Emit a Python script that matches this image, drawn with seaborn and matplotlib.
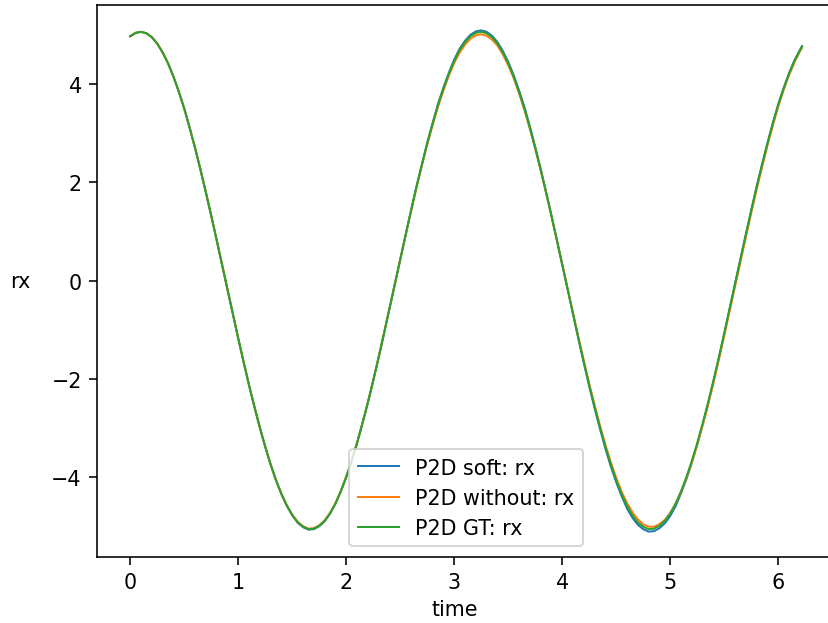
import matplotlib
matplotlib.use("Agg")
import matplotlib.pyplot as plt
import seaborn as sns
import pandas as pd

# ---- data (time step 0.05) ----
time = [0.00, 0.05, 0.10, 0.15, 0.20, 0.25, 0.30, 0.35, 0.40, 0.45,
        0.50, 0.55, 0.60, 0.65, 0.70, 0.75, 0.80, 0.85, 0.90, 0.95,
        1.00, 1.05, 1.10, 1.15, 1.20, 1.25, 1.30, 1.35, 1.40, 1.45,
        1.50, 1.55, 1.60, 1.65, 1.70, 1.75, 1.80, 1.85, 1.90, 1.95,
        2.00, 2.05, 2.10, 2.15, 2.20, 2.25, 2.30, 2.35, 2.40, 2.45,
        2.50, 2.55, 2.60, 2.65, 2.70, 2.75, 2.80, 2.85, 2.90, 2.95,
        3.00, 3.05, 3.10, 3.15, 3.20, 3.25, 3.30, 3.35, 3.40, 3.45,
        3.50, 3.55, 3.60, 3.65, 3.70, 3.75, 3.80, 3.85, 3.90, 3.95,
        4.00, 4.05, 4.10, 4.15, 4.20, 4.25, 4.30, 4.35, 4.40, 4.45,
        4.50, 4.55, 4.60, 4.65, 4.70, 4.75, 4.80, 4.85, 4.90, 4.95,
        5.00, 5.05, 5.10, 5.15, 5.20, 5.25, 5.30, 5.35, 5.40, 5.45,
        5.50, 5.55, 5.60, 5.65, 5.70, 5.75, 5.80, 5.85, 5.90, 5.95,
        6.00, 6.05, 6.10, 6.15, 6.20, 6.22]

rx_gt = [4.96, 5.03, 5.05, 5.02, 4.94, 4.81, 4.63, 4.41, 4.14, 3.83,
         3.49, 3.10, 2.69, 2.25, 1.79, 1.31, 0.82, 0.32, -0.18, -0.68,
         -1.18, -1.66, -2.13, -2.57, -2.99, -3.38, -3.74, -4.06, -4.34, -4.57,
         -4.76, -4.91, -5.00, -5.05, -5.04, -4.98, -4.88, -4.73, -4.53, -4.28,
         -3.99, -3.66, -3.30, -2.90, -2.48, -2.03, -1.56, -1.07, -0.57, -0.07,
         0.43, 0.93, 1.42, 1.90, 2.35, 2.79, 3.19, 3.57, 3.90, 4.20,
         4.46, 4.68, 4.84, 4.96, 5.03, 5.05, 5.02, 4.94, 4.81, 4.63,
         4.41, 4.14, 3.83, 3.49, 3.10, 2.69, 2.25, 1.79, 1.31, 0.82,
         0.32, -0.18, -0.68, -1.18, -1.66, -2.13, -2.57, -2.99, -3.38, -3.74,
         -4.06, -4.34, -4.58, -4.77, -4.91, -5.00, -5.05, -5.04, -4.98, -4.88,
         -4.73, -4.53, -4.28, -3.99, -3.66, -3.30, -2.90, -2.48, -2.03, -1.56,
         -1.07, -0.57, -0.07, 0.43, 0.93, 1.42, 1.90, 2.35, 2.78, 3.19,
         3.57, 3.90, 4.20, 4.46, 4.67, 4.75]

rx_soft = [4.96, 5.03, 5.05, 5.02, 4.94, 4.81, 4.63, 4.41, 4.14, 3.83,
           3.49, 3.10, 2.69, 2.25, 1.79, 1.31, 0.82, 0.32, -0.18, -0.68,
           -1.18, -1.66, -2.13, -2.57, -2.99, -3.38, -3.74, -4.06, -4.34, -4.58,
           -4.77, -4.92, -5.01, -5.06, -5.05, -4.99, -4.89, -4.73, -4.53, -4.28,
           -3.99, -3.66, -3.30, -2.90, -2.48, -2.03, -1.56, -1.07, -0.57, -0.07,
           0.43, 0.93, 1.43, 1.91, 2.36, 2.80, 3.20, 3.59, 3.92, 4.22,
           4.49, 4.71, 4.87, 4.99, 5.06, 5.08, 5.05, 4.97, 4.84, 4.66,
           4.44, 4.17, 3.86, 3.52, 3.13, 2.71, 2.27, 1.80, 1.32, 0.82,
           0.32, -0.18, -0.69, -1.19, -1.68, -2.15, -2.60, -3.02, -3.42, -3.78,
           -4.10, -4.38, -4.63, -4.82, -4.96, -5.05, -5.10, -5.09, -5.03, -4.93,
           -4.78, -4.58, -4.32, -4.03, -3.70, -3.33, -2.93, -2.50, -2.05, -1.57,
           -1.08, -0.57, -0.06, 0.44, 0.94, 1.43, 1.91, 2.36, 2.79, 3.20,
           3.58, 3.91, 4.21, 4.47, 4.68, 4.76]

rx_without = [4.96, 5.03, 5.05, 5.02, 4.94, 4.81, 4.63, 4.41, 4.14, 3.83,
              3.49, 3.10, 2.69, 2.25, 1.79, 1.31, 0.82, 0.32, -0.18, -0.68,
              -1.18, -1.66, -2.13, -2.57, -2.99, -3.38, -3.74, -4.06, -4.34, -4.57,
              -4.76, -4.90, -4.99, -5.04, -5.03, -4.97, -4.87, -4.72, -4.52, -4.27,
              -3.98, -3.65, -3.29, -2.89, -2.47, -2.02, -1.55, -1.06, -0.57, -0.07,
              0.43, 0.92, 1.41, 1.88, 2.33, 2.76, 3.16, 3.53, 3.86, 4.16,
              4.42, 4.63, 4.79, 4.91, 4.98, 5.00, 4.97, 4.89, 4.77, 4.59,
              4.37, 4.11, 3.80, 3.46, 3.08, 2.67, 2.24, 1.78, 1.31, 0.82,
              0.33, -0.17, -0.66, -1.16, -1.63, -2.10, -2.53, -2.95, -3.34, -3.69,
              -4.01, -4.29, -4.52, -4.71, -4.85, -4.95, -5.00, -5.00, -4.95, -4.86,
              -4.72, -4.53, -4.29, -4.01, -3.69, -3.33, -2.94, -2.53, -2.08, -1.61,
              -1.12, -0.62, -0.12, 0.38, 0.88, 1.37, 1.85, 2.30, 2.74, 3.15,
              3.53, 3.87, 4.17, 4.43, 4.65, 4.73]

labels = ["P2D soft: rx", "P2D without: rx", "P2D GT: rx"]
colors = ["#1f77b4", "#ff7f0e", "#2ca02c"]

# ---- figure ----
plt.rcParams["font.family"] = ["DejaVu Sans"]
plt.rcParams["font.size"] = 10.3
fig = plt.figure(figsize=(5.75, 4.3333), dpi=144)
ax = fig.add_axes([96.7 / 828, 1 - 557.7 / 624, 738.9 / 828, (557.7 - 6.3) / 624])

for lab, col, vals in zip(labels, colors, [rx_soft, rx_without, rx_gt]):
    df = pd.DataFrame({"time": time, "rx": vals})
    sns.lineplot(data=df, x="time", y="rx", ax=ax, color=col, label=lab,
                 linewidth=1.0, sort=False)

ax.spines["right"].set_visible(False)
ax.set_xticks([0, 1, 2, 3, 4, 5, 6])
ax.set_yticks([-4, -2, 0, 2, 4])
ax.set_yticklabels(["\u22124", "\u22122", "0", "2", "4"])
ax.tick_params(length=4, width=0.8, labelsize=10.3)

ax.set_xlabel("time", fontsize=10.3, va="center")
ax.set_ylabel("rx", fontsize=10.3, rotation=0, ha="center", va="center")
ax.yaxis.set_label_coords(-0.104, 0.5)
ax.xaxis.set_label_coords(0.485, -0.095)

ax.legend(loc="lower center", fontsize=10.3)

fig.savefig("out.png", dpi=144)
